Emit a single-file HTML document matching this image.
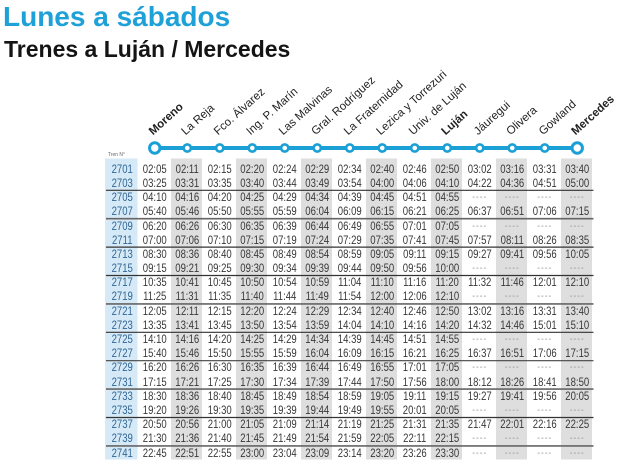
<!DOCTYPE html>
<html><head><meta charset="utf-8">
<style>
html,body{margin:0;padding:0;background:#fff;}
body{width:617px;height:474px;position:relative;overflow:hidden;font-family:"Liberation Sans",sans-serif;}
svg{position:absolute;left:0;top:0;}
#t{position:absolute;left:106px;top:162.8px;width:587.4px;transform:scaleX(0.83);transform-origin:0 0;font-size:11.5px;color:#383838;font-family:"Liberation Sans",sans-serif;}
.r{display:flex;height:14.2px;line-height:14.2px;white-space:nowrap;}
.r span,.r b,.r i{flex:none;width:39.157px;text-align:center;font-weight:normal;font-style:normal;}
.r b{color:#2f6696;}
.r i{color:#9a9a9a;letter-spacing:1.2px;font-size:10px;}
</style></head><body>
<svg width="617" height="474" viewBox="0 0 617 474" xmlns="http://www.w3.org/2000/svg">
<rect x="0" y="0" width="617" height="474" fill="#fff"/>
<text x="3" y="26" font-family="Liberation Sans, sans-serif" font-weight="bold" font-size="28" fill="#1ea0d8">Lunes a sábados</text>
<text x="4" y="57" font-family="Liberation Sans, sans-serif" font-weight="bold" font-size="23" fill="#141414">Trenes a Luján / Mercedes</text>
<rect x="105" y="158.5" width="32.5" height="301" fill="#d6e9f6"/>
<g fill="#dedede">
<rect x="171" y="158.5" width="31" height="301"/>
<rect x="236" y="158.5" width="31" height="301"/>
<rect x="301" y="158.5" width="31" height="301"/>
<rect x="366" y="158.5" width="31" height="301"/>
<rect x="431" y="158.5" width="31" height="301"/>
<rect x="496" y="158.5" width="31" height="301"/>
<rect x="561" y="158.5" width="31" height="301"/>
</g>
<g stroke-width="1.2">
<line x1="106" x2="593.5" y1="190.3" y2="190.3" stroke="#333"/>
<line x1="106" x2="593.5" y1="218.7" y2="218.7" stroke="#666" stroke-width="1.6"/>
<line x1="106" x2="593.5" y1="247.1" y2="247.1" stroke="#333"/>
<line x1="106" x2="593.5" y1="275.5" y2="275.5" stroke="#333"/>
<line x1="106" x2="593.5" y1="303.9" y2="303.9" stroke="#666" stroke-width="1.6"/>
<line x1="106" x2="593.5" y1="332.3" y2="332.3" stroke="#333"/>
<line x1="106" x2="593.5" y1="360.7" y2="360.7" stroke="#444"/>
<line x1="106" x2="593.5" y1="389.1" y2="389.1" stroke="#666" stroke-width="1.6"/>
<line x1="106" x2="593.5" y1="417.5" y2="417.5" stroke="#333"/>
<line x1="106" x2="593.5" y1="445.9" y2="445.9" stroke="#666" stroke-width="1.6"/>
</g>
<text x="108" y="156" font-family="Liberation Sans, sans-serif" font-size="5.5" fill="#666" textLength="17" lengthAdjust="spacingAndGlyphs">Tren N°</text>
<line x1="154.75" x2="577.25" y1="148" y2="148" stroke="#1ba0d6" stroke-width="4"/>
<g fill="#fff" stroke="#1ba0d6" stroke-width="2.6">
<circle cx="154.75" cy="148" r="5.2" stroke-width="3"/>
<circle cx="187.25" cy="148" r="3.6"/>
<circle cx="219.75" cy="148" r="3.6"/>
<circle cx="252.25" cy="148" r="3.6"/>
<circle cx="284.75" cy="148" r="3.6"/>
<circle cx="317.25" cy="148" r="3.6"/>
<circle cx="349.75" cy="148" r="3.6"/>
<circle cx="382.25" cy="148" r="3.6"/>
<circle cx="414.75" cy="148" r="3.6"/>
<circle cx="447.25" cy="148" r="3.6"/>
<circle cx="479.75" cy="148" r="3.6"/>
<circle cx="512.25" cy="148" r="3.6"/>
<circle cx="544.75" cy="148" r="3.6"/>
<circle cx="577.25" cy="148" r="5.2" stroke-width="3"/>
</g>
<g font-family="Liberation Sans, sans-serif" font-size="11.5" fill="#222">
<text transform="translate(153,135.5) rotate(-42)" font-weight="bold">Moreno</text>
<text transform="translate(185.5,135.5) rotate(-42)">La Reja</text>
<text transform="translate(218,135.5) rotate(-42)">Fco. Álvarez</text>
<text transform="translate(250.5,135.5) rotate(-42)">Ing. P. Marín</text>
<text transform="translate(283,135.5) rotate(-42)">Las Malvinas</text>
<text transform="translate(315.5,135.5) rotate(-42)">Gral. Rodríguez</text>
<text transform="translate(348,135.5) rotate(-42)">La Fraternidad</text>
<text transform="translate(380.5,135.5) rotate(-42)">Lezica y Torrezuri</text>
<text transform="translate(413,135.5) rotate(-42)">Univ. de Luján</text>
<text transform="translate(445.5,135.5) rotate(-42)" font-weight="bold">Luján</text>
<text transform="translate(478,135.5) rotate(-42)">Jáuregui</text>
<text transform="translate(510.5,135.5) rotate(-42)">Olivera</text>
<text transform="translate(543,135.5) rotate(-42)">Gowland</text>
<text transform="translate(575.5,135.5) rotate(-42)" font-weight="bold">Mercedes</text>
</g>
</svg>
<div id="t">
<div class="r"><b>2701</b><span>02:05</span><span>02:11</span><span>02:15</span><span>02:20</span><span>02:24</span><span>02:29</span><span>02:34</span><span>02:40</span><span>02:46</span><span>02:50</span><span>03:02</span><span>03:16</span><span>03:31</span><span>03:40</span></div>
<div class="r"><b>2703</b><span>03:25</span><span>03:31</span><span>03:35</span><span>03:40</span><span>03:44</span><span>03:49</span><span>03:54</span><span>04:00</span><span>04:06</span><span>04:10</span><span>04:22</span><span>04:36</span><span>04:51</span><span>05:00</span></div>
<div class="r"><b>2705</b><span>04:10</span><span>04:16</span><span>04:20</span><span>04:25</span><span>04:29</span><span>04:34</span><span>04:39</span><span>04:45</span><span>04:51</span><span>04:55</span><i>----</i><i>----</i><i>----</i><i>----</i></div>
<div class="r"><b>2707</b><span>05:40</span><span>05:46</span><span>05:50</span><span>05:55</span><span>05:59</span><span>06:04</span><span>06:09</span><span>06:15</span><span>06:21</span><span>06:25</span><span>06:37</span><span>06:51</span><span>07:06</span><span>07:15</span></div>
<div class="r"><b>2709</b><span>06:20</span><span>06:26</span><span>06:30</span><span>06:35</span><span>06:39</span><span>06:44</span><span>06:49</span><span>06:55</span><span>07:01</span><span>07:05</span><i>----</i><i>----</i><i>----</i><i>----</i></div>
<div class="r"><b>2711</b><span>07:00</span><span>07:06</span><span>07:10</span><span>07:15</span><span>07:19</span><span>07:24</span><span>07:29</span><span>07:35</span><span>07:41</span><span>07:45</span><span>07:57</span><span>08:11</span><span>08:26</span><span>08:35</span></div>
<div class="r"><b>2713</b><span>08:30</span><span>08:36</span><span>08:40</span><span>08:45</span><span>08:49</span><span>08:54</span><span>08:59</span><span>09:05</span><span>09:11</span><span>09:15</span><span>09:27</span><span>09:41</span><span>09:56</span><span>10:05</span></div>
<div class="r"><b>2715</b><span>09:15</span><span>09:21</span><span>09:25</span><span>09:30</span><span>09:34</span><span>09:39</span><span>09:44</span><span>09:50</span><span>09:56</span><span>10:00</span><i>----</i><i>----</i><i>----</i><i>----</i></div>
<div class="r"><b>2717</b><span>10:35</span><span>10:41</span><span>10:45</span><span>10:50</span><span>10:54</span><span>10:59</span><span>11:04</span><span>11:10</span><span>11:16</span><span>11:20</span><span>11:32</span><span>11:46</span><span>12:01</span><span>12:10</span></div>
<div class="r"><b>2719</b><span>11:25</span><span>11:31</span><span>11:35</span><span>11:40</span><span>11:44</span><span>11:49</span><span>11:54</span><span>12:00</span><span>12:06</span><span>12:10</span><i>----</i><i>----</i><i>----</i><i>----</i></div>
<div class="r"><b>2721</b><span>12:05</span><span>12:11</span><span>12:15</span><span>12:20</span><span>12:24</span><span>12:29</span><span>12:34</span><span>12:40</span><span>12:46</span><span>12:50</span><span>13:02</span><span>13:16</span><span>13:31</span><span>13:40</span></div>
<div class="r"><b>2723</b><span>13:35</span><span>13:41</span><span>13:45</span><span>13:50</span><span>13:54</span><span>13:59</span><span>14:04</span><span>14:10</span><span>14:16</span><span>14:20</span><span>14:32</span><span>14:46</span><span>15:01</span><span>15:10</span></div>
<div class="r"><b>2725</b><span>14:10</span><span>14:16</span><span>14:20</span><span>14:25</span><span>14:29</span><span>14:34</span><span>14:39</span><span>14:45</span><span>14:51</span><span>14:55</span><i>----</i><i>----</i><i>----</i><i>----</i></div>
<div class="r"><b>2727</b><span>15:40</span><span>15:46</span><span>15:50</span><span>15:55</span><span>15:59</span><span>16:04</span><span>16:09</span><span>16:15</span><span>16:21</span><span>16:25</span><span>16:37</span><span>16:51</span><span>17:06</span><span>17:15</span></div>
<div class="r"><b>2729</b><span>16:20</span><span>16:26</span><span>16:30</span><span>16:35</span><span>16:39</span><span>16:44</span><span>16:49</span><span>16:55</span><span>17:01</span><span>17:05</span><i>----</i><i>----</i><i>----</i><i>----</i></div>
<div class="r"><b>2731</b><span>17:15</span><span>17:21</span><span>17:25</span><span>17:30</span><span>17:34</span><span>17:39</span><span>17:44</span><span>17:50</span><span>17:56</span><span>18:00</span><span>18:12</span><span>18:26</span><span>18:41</span><span>18:50</span></div>
<div class="r"><b>2733</b><span>18:30</span><span>18:36</span><span>18:40</span><span>18:45</span><span>18:49</span><span>18:54</span><span>18:59</span><span>19:05</span><span>19:11</span><span>19:15</span><span>19:27</span><span>19:41</span><span>19:56</span><span>20:05</span></div>
<div class="r"><b>2735</b><span>19:20</span><span>19:26</span><span>19:30</span><span>19:35</span><span>19:39</span><span>19:44</span><span>19:49</span><span>19:55</span><span>20:01</span><span>20:05</span><i>----</i><i>----</i><i>----</i><i>----</i></div>
<div class="r"><b>2737</b><span>20:50</span><span>20:56</span><span>21:00</span><span>21:05</span><span>21:09</span><span>21:14</span><span>21:19</span><span>21:25</span><span>21:31</span><span>21:35</span><span>21:47</span><span>22:01</span><span>22:16</span><span>22:25</span></div>
<div class="r"><b>2739</b><span>21:30</span><span>21:36</span><span>21:40</span><span>21:45</span><span>21:49</span><span>21:54</span><span>21:59</span><span>22:05</span><span>22:11</span><span>22:15</span><i>----</i><i>----</i><i>----</i><i>----</i></div>
<div class="r"><b>2741</b><span>22:45</span><span>22:51</span><span>22:55</span><span>23:00</span><span>23:04</span><span>23:09</span><span>23:14</span><span>23:20</span><span>23:26</span><span>23:30</span><i>----</i><i>----</i><i>----</i><i>----</i></div>
</div>
</body></html>
